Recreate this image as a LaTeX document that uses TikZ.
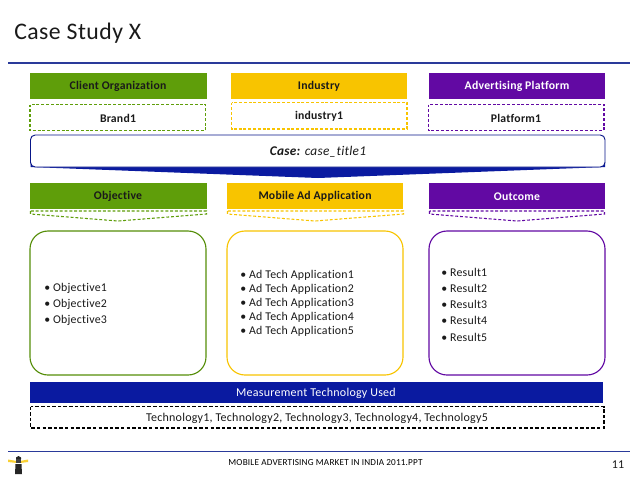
\documentclass[tikz,border=0pt]{standalone}
\usepackage{fontspec}
\setmainfont[LetterSpace=2,Ligatures=NoCommon]{Carlito}
\usetikzlibrary{shapes.geometric}
\definecolor{cgreen}{HTML}{5F9E0A}
\definecolor{cyellow}{HTML}{F8C400}
\definecolor{cpurple}{HTML}{6209A3}
\definecolor{cblue}{HTML}{0A1AA0}
\definecolor{cline}{HTML}{2A3A9A}
\definecolor{cink}{HTML}{1A1A1A}
\newcommand{\fs}[1]{\fontsize{#1}{#1}\selectfont}
\tikzset{
  x=0.75pt,y=-0.75pt,
  txt/.style={inner sep=0pt,text=cink,font=\fs{8.9}},
  head/.style={txt,font=\fs{8.8}\bfseries},
  bullets/.style={txt,anchor=west,align=left},
  hdash/.style={dash pattern=on 2.2pt off 1.4pt,line width=0.8pt},
  panel/.style={rounded corners=13.5pt,line width=0.85pt,fill=white},
}
\begin{document}
\begin{tikzpicture}
\useasboundingbox (0,0) rectangle (638,479);
\fill[white] (0,0) rectangle (638,479);
\node[txt,font=\fs{17.8},anchor=base west] (title) at (14,39) {Case Study X};
\coordinate (tl) at (8,63); \coordinate (tr) at (630,63);
\draw[cline,line width=0.8pt] (tl) -- (tr);
\coordinate (bl) at (8,451.5); \coordinate (br) at (630,451.5);
\draw[cline,line width=0.8pt] (bl) -- (br);

% top row
\fill[cgreen] (30,73) rectangle (207,99);
\fill[cyellow] (231,73) rectangle (407,99);
\fill[cpurple] (429,73) rectangle (605,99);
\node[head] (client) at (118,86.5) {Client Organization};
\node[head] (industry) at (319,86.5) {Industry};
\node[head,text=white] (platform) at (517,86.5) {Advertising Platform};
\draw[hdash,draw=cgreen] (30,104.5) rectangle (205.5,130.5);
\draw[hdash,draw=cyellow] (231.5,102.5) rectangle (407,129);
\draw[hdash,draw=cpurple] (428.5,104.5) rectangle (604,130.5);
\node[head] (brand) at (118,118) {Brand1};
\node[head] (ind1) at (319,116.5) {industry1};
\node[head] (plat1) at (516,118.5) {Platform1};

% case banner
\fill[cblue] (30.5,162) -- (30.5,167) -- (318,178) -- (605,167) -- (605,162) -- cycle;
\draw[draw=cblue!85!black,fill=white,line width=0.7pt,rounded corners=3.5pt] (30.5,135) rectangle (605,167);
\node[txt,font=\fs{10}\itshape] (case) at (318,151.5) {\textbf{Case:} case\_title1};

% second row
\fill[cgreen] (30,183) rectangle (207,209);
\fill[cyellow] (227,183) rectangle (403,209);
\fill[cpurple] (429,183) rectangle (605,209);
\node[head] (obj) at (118,196.5) {Objective};
\node[head] (app) at (315,196.5) {Mobile Ad Application};
\node[head,text=white] (out) at (517,196.5) {Outcome};
\draw[hdash,draw=cgreen] (30.5,211) -- (30.5,214) -- (118,221) -- (206.5,214) -- (206.5,211) -- cycle;
\draw[hdash,draw=cyellow] (227.5,211) -- (227.5,214) -- (315,221) -- (403.5,214) -- (403.5,211) -- cycle;
\draw[hdash,draw=cpurple] (429.5,211) -- (429.5,214) -- (517,221) -- (604.5,214) -- (604.5,211) -- cycle;

% panels
\draw[panel,draw=cgreen!90!black] (30,231) rectangle (206,375);
\draw[panel,draw=cyellow] (227,231) rectangle (403,375);
\draw[panel,draw=cpurple] (429,231) rectangle (605,375);
\node[bullets] (o1) at (44,288) {• Objective1};
\node[bullets] (o2) at (44,304.5) {• Objective2};
\node[bullets] (o3) at (44,320.5) {• Objective3};
\node[bullets] (a1) at (240,275.5) {• Ad Tech Application1};
\node[bullets] (a2) at (240,289.5) {• Ad Tech Application2};
\node[bullets] (a3) at (240,303.5) {• Ad Tech Application3};
\node[bullets] (a4) at (240,317.5) {• Ad Tech Application4};
\node[bullets] (a5) at (240,331.5) {• Ad Tech Application5};
\node[bullets] (r1) at (441,272) {• Result1};
\node[bullets] (r2) at (441,288.5) {• Result2};
\node[bullets] (r3) at (441,304.5) {• Result3};
\node[bullets] (r4) at (441,320.5) {• Result4};
\node[bullets] (r5) at (441,337) {• Result5};

% measurement
\fill[cblue] (30,382) rectangle (603,403);
\node[txt,text=white,font=\fs{9}] (meas) at (316,393.5) {Measurement Technology Used};
\draw[hdash,draw=black,dash pattern=on 2.6pt off 1.6pt] (30.5,406.5) rectangle (604,428);
\node[txt,font=\fs{9}] (tech) at (317,418.5) {Technology1, Technology2, Technology3, Technology4, Technology5};

% footer
\node[txt,font=\fs{6.9},text=black] (foot) at (325.5,463) {MOBILE ADVERTISING MARKET IN INDIA 2011.PPT};
\node[txt,font=\fs{9}] (page) at (618,464.5) {11};

% lighthouse icon
\fill[cyellow!80!white] (8,459.5) -- (17,461) -- (17,463) -- (8,462) -- cycle;
\fill[cyellow!80!white] (28,459.5) -- (20,461) -- (20,463) -- (28,462) -- cycle;
\fill[black!85] (15.5,464) -- (21.5,464) -- (22,474) -- (15,474) -- cycle;
\fill[black!85] (16,457.5) -- (18.5,456) -- (21,457.5) -- (21,459) -- (16,459) -- cycle;
\fill[black!75] (16,459) rectangle (21,463);
\end{tikzpicture}
\end{document}
